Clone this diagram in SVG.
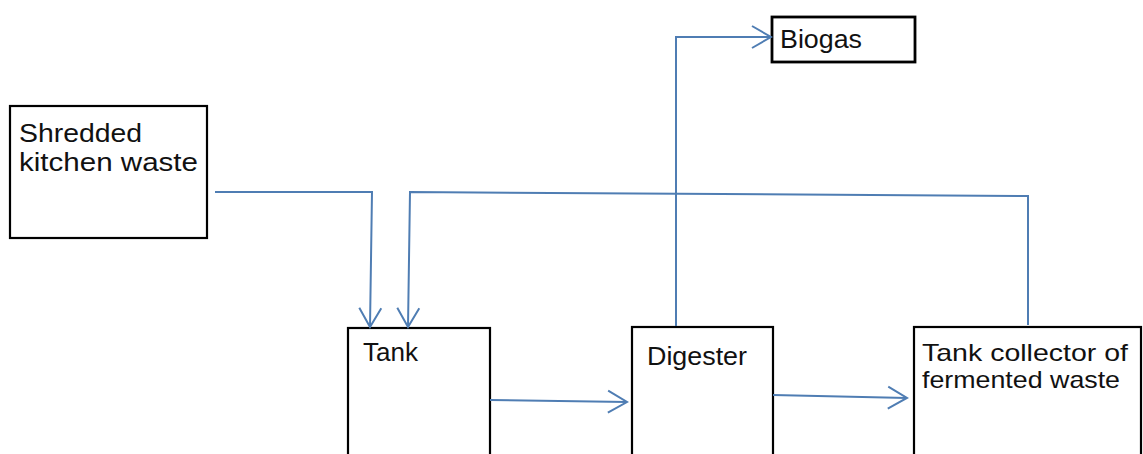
<svg xmlns="http://www.w3.org/2000/svg" width="1143" height="454" viewBox="0 0 1143 454">
  <style>
    .box { fill: #ffffff; stroke: #000000; stroke-width: 2.2; }
    .lbl { font-family: "Liberation Sans", Arial, sans-serif; font-size: 25px; fill: #111111; }
    .conn { fill: none; stroke: #4f7db3; stroke-width: 2; }
  </style>
  <defs>
    <marker id="arr" markerUnits="userSpaceOnUse" markerWidth="26" markerHeight="26" viewBox="-22 -13 24 26" refX="0" refY="0" orient="auto">
      <path d="M-19,-11 L0,0 L-19,11" fill="none" stroke="#4f7db3" stroke-width="2"/>
    </marker>
  </defs>
  <rect width="1143" height="454" fill="#ffffff"/>

  <g id="node-shredded">
    <rect class="box" x="10" y="106" width="197" height="132"/>
    <text class="lbl" x="19" y="142" textLength="123" lengthAdjust="spacingAndGlyphs">Shredded</text>
    <text class="lbl" x="19" y="171" textLength="179" lengthAdjust="spacingAndGlyphs">kitchen waste</text>
  </g>

  <g id="node-tank">
    <rect class="box" x="348" y="328" width="142" height="140"/>
    <text class="lbl" x="363" y="361" textLength="55" lengthAdjust="spacingAndGlyphs">Tank</text>
  </g>

  <g id="node-digester">
    <rect class="box" x="632" y="327" width="141" height="140"/>
    <text class="lbl" x="647" y="365" textLength="100" lengthAdjust="spacingAndGlyphs" style="font-size:26px">Digester</text>
  </g>

  <g id="node-collector">
    <rect class="box" x="914" y="327" width="227" height="140"/>
    <text class="lbl" x="922" y="361" textLength="206" lengthAdjust="spacingAndGlyphs" style="font-size:24px">Tank collector of</text>
    <text class="lbl" x="922" y="388" textLength="198" lengthAdjust="spacingAndGlyphs" style="font-size:24px">fermented waste</text>
  </g>

  <g id="node-biogas">
    <rect class="box" x="772" y="17" width="143" height="45" style="stroke-width:2.8"/>
    <text class="lbl" x="780" y="48" textLength="82" lengthAdjust="spacingAndGlyphs">Biogas</text>
  </g>

  <g id="connectors">
    <path class="conn" d="M215,192 L372,192 L370,327" marker-end="url(#arr)"/>
    <path class="conn" d="M1028,325 L1028,196 L410,192 L408,327" marker-end="url(#arr)"/>
    <path class="conn" d="M676,326 L676,37 L771,37" marker-end="url(#arr)"/>
    <path class="conn" d="M490,400 L627,402" marker-end="url(#arr)"/>
    <path class="conn" d="M773,395 L907,398" marker-end="url(#arr)"/>
  </g>
</svg>
